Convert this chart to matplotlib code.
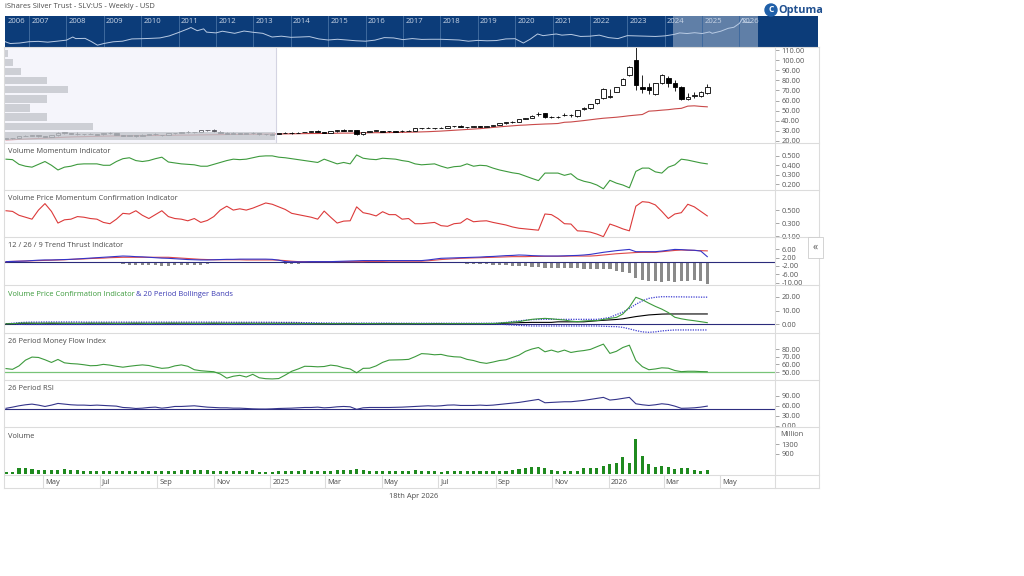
import numpy as np
import pandas as pd
import matplotlib
matplotlib.use('Agg')
import matplotlib.pyplot as plt
import matplotlib.dates as mdates
import matplotlib.transforms as mtransforms
from matplotlib.lines import Line2D
from matplotlib.patches import Ellipse

plt.rcParams['font.family'] = ['Open Sans', 'DejaVu Sans']

# ---------------- data ----------------
weeks = pd.date_range('2024-03-22', periods=109, freq='7D')

opens = [22.0, 22.5, 22.7, 24.8, 25.4, 25.6, 24.4, 24.3, 25.6, 28.5,
         27.5, 27.3, 26.6, 26.6, 26.7, 26.5, 28.2, 27.8, 26.2, 25.3,
         25.6, 24.9, 26.4, 27.1, 26.3, 25.9, 27.5, 28.0, 28.5, 28.9,
         28.6, 30.7, 30.4, 29.3, 28.2, 27.0, 27.9, 27.1, 27.6, 27.7,
         26.6, 26.4, 27.0, 27.8, 27.8, 27.8, 28.6, 29.2, 29.8, 29.3,
         28.2, 29.4, 30.7, 30.1, 31.0, 26.9, 29.1, 30.2, 30.1, 29.4,
         29.8, 29.5, 30.1, 30.2, 32.6, 33.0, 33.0, 32.5, 33.1, 34.5,
         34.8, 34.1, 33.6, 34.4, 34.2, 35.0, 36.0, 37.3, 38.5, 39.0,
         41.8, 43.0, 46.6, 47.4, 43.8, 43.7, 45.8, 45.7, 44.5, 52.0,
         52.4, 57.4, 62.3, 63.5, 68.8, 75.4, 85.3, 100.2, 73.8, 73.2,
         66.5, 77.8, 82.1, 77.1, 73.2, 61.3, 65.0, 64.5, 67.2]
highs = [22.9, 22.9, 25.0, 26.3, 26.3, 25.9, 24.8, 25.9, 28.5, 29.3,
         28.3, 28.6, 27.3, 27.8, 27.3, 28.3, 28.5, 28.3, 26.4, 26.3,
         25.9, 26.6, 27.4, 27.5, 26.4, 27.7, 28.3, 29.3, 29.5, 29.0,
         30.8, 31.3, 31.8, 29.6, 28.4, 28.7, 28.2, 28.0, 29.3, 27.9,
         27.1, 27.5, 28.0, 28.7, 28.4, 29.2, 29.3, 30.0, 30.4, 29.3,
         29.6, 31.0, 31.5, 31.2, 31.3, 29.3, 30.0, 30.5, 30.3, 30.0,
         30.1, 30.4, 30.4, 33.1, 33.0, 33.9, 33.3, 33.5, 35.0, 35.3,
         35.6, 34.3, 34.6, 34.6, 35.1, 36.0, 37.6, 38.5, 39.3, 42.0,
         43.0, 46.0, 49.0, 48.0, 44.6, 44.5, 47.2, 46.8, 51.0, 53.5,
         57.0, 61.5, 72.0, 71.2, 73.8, 82.0, 94.5, 115.0, 85.0, 77.0,
         77.5, 86.0, 84.0, 80.0, 74.0, 67.5, 68.5, 69.0, 76.0]
lows = [21.8, 22.1, 22.6, 24.5, 24.9, 24.3, 23.9, 24.2, 25.4, 27.0,
        27.0, 26.4, 25.9, 26.5, 26.2, 26.4, 27.4, 26.0, 24.9, 25.1,
        24.2, 24.8, 26.2, 26.3, 24.9, 25.5, 27.0, 27.9, 27.8, 27.8,
        28.5, 29.8, 29.2, 27.7, 26.6, 26.8, 26.6, 26.9, 27.3, 26.0,
        26.3, 26.3, 26.8, 27.5, 27.2, 27.8, 28.4, 28.9, 29.1, 27.8,
        28.1, 29.2, 29.8, 29.9, 26.3, 25.8, 28.9, 29.6, 28.9, 29.0,
        28.8, 29.2, 29.6, 30.0, 31.9, 32.6, 31.8, 32.4, 33.0, 34.0,
        34.0, 32.8, 33.5, 33.6, 33.7, 34.9, 35.8, 37.0, 37.5, 38.8,
        41.5, 42.6, 44.5, 43.0, 42.5, 42.8, 44.8, 44.2, 44.0, 50.8,
        52.0, 57.0, 62.0, 62.8, 68.0, 75.0, 84.5, 70.5, 67.5, 66.5,
        65.5, 76.5, 73.8, 69.0, 61.0, 60.5, 63.0, 64.0, 66.5]
closes = [22.5, 22.7, 24.7, 25.3, 25.8, 24.5, 24.3, 25.5, 28.2, 27.6,
          27.3, 26.6, 26.6, 26.8, 26.4, 28.2, 27.7, 26.2, 25.3, 25.8,
          24.9, 26.4, 27.1, 26.5, 25.8, 27.5, 28.0, 28.7, 29.0, 28.5,
          30.6, 30.6, 29.4, 28.0, 27.0, 27.9, 27.0, 27.6, 27.6, 26.5,
          26.6, 27.0, 27.7, 27.7, 27.8, 28.3, 29.1, 29.8, 29.3, 28.1,
          29.4, 30.7, 30.0, 31.1, 26.9, 29.0, 29.7, 30.2, 29.3, 29.6,
          29.3, 30.1, 29.9, 32.6, 32.9, 32.9, 32.4, 33.2, 34.5, 34.6,
          34.2, 33.5, 34.4, 34.2, 34.9, 35.8, 37.3, 38.4, 39.0, 41.6,
          42.5, 45.0, 47.0, 43.6, 43.6, 43.9, 46.2, 46.0, 50.7, 52.4,
          56.6, 61.3, 71.2, 64.2, 73.2, 81.4, 93.5, 75.4, 71.2, 70.5,
          77.1, 85.3, 77.1, 73.2, 61.3, 64.0, 65.5, 68.8, 73.8]
red_line = [21.0, 21.3, 21.6, 21.9, 22.2, 22.5, 22.8, 23.1, 23.4, 23.7,
            24.0, 24.2, 24.3, 24.5, 24.6, 24.8, 24.9, 25.0, 25.0, 25.1,
            25.2, 25.3, 25.4, 25.4, 25.5, 25.6, 25.7, 25.8, 25.8, 25.9,
            26.0, 26.1, 26.2, 26.3, 26.4, 26.5, 26.5, 26.6, 26.7, 26.7,
            26.8, 26.9, 27.0, 27.0, 27.1, 27.2, 27.3, 27.4, 27.4, 27.5,
            27.6, 27.7, 27.8, 27.8, 27.9, 28.0, 28.1, 28.2, 28.2, 28.3,
            28.4, 28.5, 28.7, 28.8, 29.0, 29.2, 29.5, 29.8, 30.2, 30.6,
            31.0, 31.4, 31.8, 32.2, 32.8, 33.4, 34.0, 34.5, 35.0, 35.5,
            35.8, 36.2, 36.5, 36.8, 37.0, 37.3, 38.5, 38.8, 39.5, 40.2,
            41.0, 41.8, 42.5, 43.0, 43.5, 44.2, 45.0, 45.6, 46.2, 49.5,
            49.9, 50.5, 51.0, 51.8, 52.3, 54.5, 54.8, 54.2, 53.8]

# volume at price profile (left of price panel)
prof_price = [106.6, 97.7, 88.8, 79.9, 71.0, 61.6, 52.7, 43.8, 34.4, 25.0]
prof_volume = [3, 8, 16, 42, 63, 42, 25, 42, 88, 270]

vmi = [0.465, 0.46, 0.41, 0.39, 0.38, 0.41, 0.44, 0.40, 0.35, 0.38,
       0.39, 0.41, 0.415, 0.415, 0.415, 0.40, 0.40, 0.44, 0.47, 0.48,
       0.45, 0.44, 0.45, 0.47, 0.486, 0.435, 0.425, 0.415, 0.41, 0.405,
       0.39, 0.39, 0.41, 0.43, 0.45, 0.465, 0.46, 0.465, 0.48, 0.495,
       0.50, 0.50, 0.486, 0.48, 0.47, 0.46, 0.45, 0.44, 0.43, 0.465,
       0.44, 0.415, 0.43, 0.415, 0.51, 0.475, 0.465, 0.46, 0.475, 0.47,
       0.465, 0.45, 0.44, 0.415, 0.405, 0.41, 0.415, 0.39, 0.37, 0.385,
       0.39, 0.415, 0.39, 0.40, 0.395, 0.37, 0.35, 0.335, 0.32, 0.31,
       0.285, 0.26, 0.237, 0.317, 0.317, 0.317, 0.293, 0.31, 0.255, 0.23,
       0.215, 0.19, 0.15, 0.24, 0.21, 0.19, 0.16, 0.335, 0.37, 0.37,
       0.33, 0.317, 0.38, 0.405, 0.465, 0.455, 0.44, 0.425, 0.415]
vpmci = [0.49, 0.48, 0.42, 0.39, 0.36, 0.50, 0.60, 0.48, 0.30, 0.35,
         0.36, 0.40, 0.39, 0.37, 0.36, 0.31, 0.29, 0.36, 0.45, 0.44,
         0.49, 0.42, 0.37, 0.43, 0.49, 0.40, 0.37, 0.36, 0.335, 0.37,
         0.31, 0.34, 0.40, 0.50, 0.56, 0.50, 0.52, 0.50, 0.53, 0.57,
         0.61, 0.59, 0.55, 0.51, 0.45, 0.43, 0.41, 0.39, 0.36, 0.485,
         0.39, 0.30, 0.33, 0.335, 0.55, 0.46, 0.44, 0.41, 0.475, 0.43,
         0.43, 0.36, 0.37, 0.29, 0.29, 0.30, 0.31, 0.26, 0.25, 0.29,
         0.30, 0.37, 0.32, 0.33, 0.335, 0.31, 0.29, 0.27, 0.24, 0.22,
         0.21, 0.20, 0.19, 0.44, 0.43, 0.37, 0.29, 0.285, 0.18, 0.175,
         0.16, 0.13, 0.09, 0.285, 0.25, 0.21, 0.18, 0.56, 0.63, 0.62,
         0.58, 0.48, 0.37, 0.44, 0.46, 0.59, 0.55, 0.48, 0.41]
tt_blue = [0.1, 0.2, 0.3, 0.4, 0.6, 0.8, 0.9, 0.9, 1.0, 1.1,
           1.2, 1.4, 1.6, 1.8, 2.0, 2.2, 2.4, 2.6, 2.8, 2.7,
           2.5, 2.4, 2.2, 2.0, 1.8, 1.7, 1.5, 1.3, 1.1, 1.0,
           0.9, 0.9, 1.0, 1.1, 1.2, 1.2, 1.3, 1.3, 1.3, 1.3,
           1.3, 1.2, 0.8, 0.1, 0.0, 0.0, 0.0, 0.1, 0.1, 0.1,
           0.1, 0.2, 0.3, 0.4, 0.5, 0.6, 0.6, 0.6, 0.6, 0.6,
           0.6, 0.6, 0.6, 0.6, 0.6, 0.9, 1.3, 1.7, 1.8, 1.9,
           2.0, 2.1, 2.2, 2.3, 2.5, 2.6, 2.8, 3.0, 3.1, 3.3,
           3.2, 3.0, 2.9, 2.8, 2.8, 2.8, 2.9, 3.0, 3.1, 3.3,
           3.6, 4.1, 4.6, 5.0, 5.4, 5.7, 6.0, 4.9, 4.9, 4.9,
           4.9, 5.2, 5.6, 6.0, 5.9, 5.7, 5.6, 5.2, 2.5]
tt_red = [0.1, 0.2, 0.3, 0.4, 0.5, 0.6, 0.7, 0.8, 0.9, 1.0,
          1.2, 1.3, 1.4, 1.6, 1.7, 1.8, 2.0, 2.1, 2.2, 2.2,
          2.2, 2.2, 2.2, 2.2, 2.2, 2.2, 2.0, 1.8, 1.6, 1.4,
          1.2, 1.1, 1.0, 1.0, 1.0, 1.0, 1.0, 0.9, 0.9, 0.9,
          0.9, 0.9, 0.8, 0.6, 0.3, 0.1, 0.1, 0.1, 0.1, 0.1,
          0.1, 0.1, 0.1, 0.1, 0.1, 0.1, 0.2, 0.2, 0.2, 0.3,
          0.3, 0.3, 0.3, 0.3, 0.3, 0.5, 0.8, 1.1, 1.3, 1.5,
          1.7, 1.8, 1.9, 2.0, 2.1, 2.2, 2.3, 2.4, 2.5, 2.5,
          2.5, 2.6, 2.6, 2.7, 2.7, 2.7, 2.7, 2.8, 2.8, 2.8,
          2.8, 3.0, 3.3, 3.6, 3.9, 4.1, 4.3, 4.5, 4.6, 4.6,
          4.6, 4.9, 5.2, 5.5, 5.7, 5.6, 5.5, 5.4, 5.3]
tt_hist = [-0.3, -0.3, -0.3, -0.3, -0.3, -0.3, -0.3, -0.3, -0.3, -0.3,
           -0.4, -0.4, -0.4, -0.4, -0.4, -0.4, -0.4, -0.4, -1.2, -1.3,
           -1.4, -1.5, -1.6, -1.7, -1.8, -1.8, -1.7, -1.6, -1.5, -1.4,
           -1.3, -1.2, -0.5, -0.5, -0.5, -0.5, -0.5, -0.5, -0.5, -0.5,
           -0.5, -0.5, -0.5, -1.0, -1.0, -1.0, -0.2, -0.2, -0.2, -0.2,
           -0.2, -0.2, -0.2, -0.2, -0.2, -0.2, -0.2, -0.2, -0.2, -0.2,
           -0.2, -0.2, -0.2, -0.2, -0.2, -0.3, -0.4, -0.5, -0.6, -0.7,
           -0.8, -0.9, -1.0, -1.1, -1.2, -1.4, -1.5, -1.6, -1.8, -1.9,
           -2.1, -2.4, -2.7, -2.9, -2.9, -2.9, -3.2, -3.2, -3.2, -3.4,
           -3.4, -3.7, -3.7, -3.7, -4.3, -4.8, -5.6, -8.0, -8.8, -9.2,
           -9.5, -9.6, -9.5, -9.6, -9.5, -9.5, -8.8, -9.2, -10.8]
vpci = [0.3, 0.5, 0.8, 0.9, 0.8, 0.7, 0.8, 0.9, 0.8, 0.7,
        0.7, 0.6, 0.7, 0.8, 0.7, 0.8, 0.7, 0.6, 0.6, 0.7,
        0.8, 0.7, 0.6, 0.7, 0.7, 0.8, 0.8, 0.7, 0.7, 0.6,
        0.6, 0.7, 0.8, 0.7, 0.6, 0.6, 0.7, 0.7, 0.6, 0.5,
        0.5, 0.6, 0.6, 0.5, 0.5, 0.5, 0.5, 0.5, 0.4, 0.4,
        0.5, 0.5, 0.4, 0.4, 0.5, 0.6, 0.5, 0.5, 0.4, 0.4,
        0.4, 0.4, 0.4, 0.5, 0.5, 0.5, 0.4, 0.4, 0.5, 0.5,
        0.5, 0.5, 0.5, 0.5, 0.6, 0.6, 0.8, 1.2, 1.6, 1.9,
        2.8, 3.6, 4.0, 4.3, 4.0, 3.5, 3.1, 2.3, 1.9, 2.4,
        2.6, 2.7, 3.5, 4.3, 5.0, 7.5, 12.5, 19.6, 17.8, 15.3,
        13.0, 11.0, 8.5, 5.1, 4.0, 3.2, 2.6, 1.9, 1.2]
bb_upper = [0.3, 0.8, 1.2, 1.5, 1.6, 1.6, 1.7, 1.7, 1.7, 1.7,
            1.7, 1.7, 1.6, 1.6, 1.6, 1.6, 1.6, 1.6, 1.6, 1.6,
            1.6, 1.6, 1.6, 1.6, 1.6, 1.6, 1.6, 1.6, 1.6, 1.6,
            1.6, 1.6, 1.6, 1.6, 1.5, 1.5, 1.5, 1.5, 1.5, 1.5,
            1.5, 1.5, 1.4, 1.4, 1.4, 1.3, 1.2, 1.2, 1.1, 1.0,
            1.0, 0.9, 0.9, 0.9, 0.9, 0.9, 0.9, 0.9, 0.9, 0.9,
            0.8, 0.8, 0.8, 0.8, 0.8, 0.8, 0.8, 0.8, 0.8, 0.8,
            0.8, 0.8, 0.8, 0.8, 0.8, 0.8, 1.0, 1.4, 2.0, 2.5,
            3.0, 3.4, 3.5, 3.6, 3.6, 3.6, 3.6, 3.6, 3.6, 3.6,
            3.6, 3.6, 4.2, 5.0, 7.0, 8.8, 11.5, 14.5, 17.0, 18.8,
            19.6, 20.0, 20.0, 19.9, 19.9, 19.8, 19.8, 19.7, 19.7]
bb_lower = [0.2, 0.1, 0.0, -0.1, -0.1, -0.1, -0.1, -0.1, -0.1, -0.1,
            -0.1, -0.1, -0.1, -0.1, -0.1, -0.1, -0.1, -0.1, -0.1, -0.1,
            -0.1, -0.1, -0.1, -0.1, -0.1, -0.1, -0.1, -0.1, -0.1, -0.1,
            -0.1, -0.1, -0.1, -0.1, -0.1, -0.1, -0.1, -0.1, -0.1, -0.1,
            -0.1, -0.1, -0.1, -0.1, -0.1, -0.1, 0.0, 0.1, 0.1, 0.2,
            0.2, 0.2, 0.2, 0.2, 0.2, 0.2, 0.2, 0.2, 0.2, 0.2,
            0.2, 0.2, 0.2, 0.2, 0.2, 0.2, 0.2, 0.2, 0.2, 0.2,
            0.2, 0.2, 0.2, 0.2, 0.2, 0.2, 0.1, -0.2, -0.5, -0.8,
            -1.0, -1.2, -1.2, -1.2, -1.2, -1.2, -1.2, -1.2, -1.2, -1.2,
            -1.2, -1.2, -1.4, -1.6, -1.7, -2.2, -3.3, -4.5, -5.5, -5.8,
            -5.5, -4.8, -4.4, -4.1, -4.1, -4.1, -4.1, -4.1, -4.1]
bb_mid = [0.2, 0.4, 0.6, 0.7, 0.7, 0.7, 0.7, 0.7, 0.7, 0.7,
          0.7, 0.7, 0.7, 0.7, 0.7, 0.7, 0.7, 0.7, 0.7, 0.7,
          0.7, 0.7, 0.7, 0.7, 0.7, 0.7, 0.7, 0.7, 0.7, 0.7,
          0.7, 0.7, 0.7, 0.7, 0.7, 0.7, 0.7, 0.7, 0.7, 0.7,
          0.7, 0.7, 0.7, 0.7, 0.7, 0.7, 0.6, 0.6, 0.5, 0.5,
          0.5, 0.5, 0.5, 0.5, 0.5, 0.5, 0.5, 0.5, 0.5, 0.5,
          0.5, 0.5, 0.5, 0.5, 0.5, 0.5, 0.5, 0.5, 0.5, 0.5,
          0.5, 0.5, 0.5, 0.5, 0.5, 0.5, 0.6, 0.8, 1.0, 1.2,
          1.3, 1.4, 1.4, 1.4, 1.4, 1.8, 1.8, 1.8, 1.8, 1.8,
          2.2, 2.6, 2.9, 3.2, 3.5, 4.0, 4.8, 5.6, 6.2, 6.8,
          7.1, 7.4, 7.5, 7.5, 7.5, 7.5, 7.5, 7.5, 7.5]
mfi = [54.5, 53.5, 58, 65.5, 69.5, 69, 66, 62.5, 66.4, 62,
       61, 60.5, 59.5, 58.2, 58.5, 60, 59, 57.5, 56.3, 57.5,
       58.5, 59.3, 58.5, 56.5, 54.8, 55.5, 58, 59.3, 57.5, 53,
       51.7, 51, 50.4, 47.4, 42, 44.5, 45.7, 43.5, 47, 42.5,
       41.3, 41, 41.5, 46, 51, 54, 57.5, 57.3, 56.8, 57.2,
       59, 58, 55.5, 54, 49, 54.8, 55, 58, 62.6, 65.6,
       65.8, 66, 66.5, 70, 74, 73.5, 72.5, 73, 71, 69.9,
       69.5, 66.5, 65, 62.5, 61.3, 63, 65, 66, 69, 72,
       77, 80, 82, 76.4, 78.6, 76, 78.6, 75.5, 77, 78,
       79.5, 83, 86.4, 74.3, 77, 82, 85, 65, 57, 53,
       54, 55.5, 55, 52, 50.5, 51, 51, 50.6, 50.4]
rsi = [52.5, 56, 60, 63, 65, 62, 58, 62, 67, 65,
       63, 62, 62, 61, 62, 61, 60, 59, 55, 54,
       52, 53, 55, 56, 53, 55, 58, 58, 59, 60,
       58, 56, 55, 54, 54, 53, 53, 52, 51, 50.5,
       50.4, 51, 52, 52.5, 53, 54, 55, 55, 56, 54,
       55, 57, 58, 57, 49.5, 54, 55, 55, 55, 55,
       55.5, 56, 57, 58, 59, 60, 59, 60, 62, 62.5,
       61, 61, 61, 62, 61, 62, 64, 66, 68, 70,
       73, 76, 79, 69, 70, 71, 72, 72, 74, 76,
       79, 82, 85, 77, 79, 82, 85, 66, 63, 61,
       63, 66, 64, 59, 52.5, 53, 54, 56, 59]
volume = [108, 108, 248, 276, 220, 178, 178, 178, 178, 206,
          164, 178, 136, 136, 136, 136, 136, 136, 136, 136,
          136, 136, 136, 136, 136, 136, 150, 164, 164, 164,
          164, 178, 150, 136, 136, 136, 136, 136, 178, 108,
          108, 108, 120, 136, 136, 136, 178, 150, 150, 150,
          150, 160, 164, 170, 206, 178, 150, 150, 136, 136,
          130, 130, 130, 164, 136, 136, 136, 100, 136, 136,
          136, 136, 136, 136, 136, 136, 150, 150, 164, 206,
          276, 318, 318, 248, 178, 150, 150, 150, 150, 248,
          248, 276, 346, 459, 487, 740, 487, 1554, 782, 459,
          318, 360, 318, 220, 276, 248, 178, 150, 178]

# long history shown in the navigator strip
nav_years = [2006.33, 2006.42, 2006.5, 2006.75, 2007.0, 2007.25, 2007.5, 2007.75, 2008.0, 2008.17,
             2008.25, 2008.5, 2008.67, 2008.83, 2009.0, 2009.25, 2009.5, 2009.75, 2010.0, 2010.25,
             2010.5, 2010.75, 2011.0, 2011.25, 2011.33, 2011.5, 2011.67, 2011.75, 2012.0, 2012.17,
             2012.5, 2012.75, 2013.0, 2013.25, 2013.5, 2013.75, 2014.0, 2014.25, 2014.5, 2014.75,
             2015.0, 2015.25, 2015.5, 2015.75, 2016.0, 2016.25, 2016.5, 2016.75, 2017.0, 2017.25,
             2017.5, 2017.75, 2018.0, 2018.25, 2018.5, 2018.75, 2019.0, 2019.25, 2019.5, 2019.75,
             2020.0, 2020.22, 2020.4, 2020.6, 2020.75, 2021.0, 2021.1, 2021.25, 2021.5, 2021.75,
             2022.0, 2022.25, 2022.5, 2022.75, 2023.0, 2023.25, 2023.5, 2023.75, 2024.0, 2024.25,
             2024.4, 2024.6, 2024.8, 2025.0, 2025.2, 2025.27, 2025.5, 2025.7, 2025.85, 2026.0,
             2026.08, 2026.15, 2026.3]
nav_price = [13.5, 12.0, 11.0, 11.5, 12.9, 13.3, 12.4, 13.5, 14.8, 19.5,
             17.0, 17.3, 13.0, 9.5, 11.0, 12.8, 13.5, 16.5, 16.8, 17.3,
             18.0, 21.5, 29.0, 40.0, 45.0, 34.0, 40.0, 30.0, 28.0, 32.5,
             27.0, 33.0, 29.5, 27.0, 19.5, 21.0, 19.0, 19.5, 20.2, 16.5,
             15.0, 16.0, 15.0, 14.0, 13.5, 14.8, 18.5, 18.0, 15.5, 17.0,
             15.8, 16.0, 16.0, 15.5, 15.0, 13.5, 14.5, 14.0, 14.3, 16.5,
             16.8, 11.5, 16.0, 25.5, 22.0, 24.5, 25.5, 23.0, 24.5, 20.5,
             21.0, 23.0, 18.5, 17.0, 22.0, 21.5, 21.0, 20.5, 21.5, 24.5,
             28.0, 26.5, 28.5, 26.5, 30.5, 27.0, 32.5, 42.0, 46.0, 65.0,
             100.0, 72.0, 70.0]

# ---------------- figure ----------------
W, H = 1024, 576
X0, X1 = 5, 775
fig = plt.figure(figsize=(W / 100, H / 100), dpi=100)

t = mdates.date2num(weeks)
xmin = mdates.date2num(pd.Timestamp('2024-03-20 22:00'))
xmax = mdates.date2num(pd.Timestamp('2026-06-29'))

GRID = '#dcdcdc'
TXT = '#4a4a4a'


def panel(y0, y1, x0=X0, x1=X1):
    return fig.add_axes([x0 / W, 1 - y1 / H, (x1 - x0) / W, (y1 - y0) / H])


def ftext(x, y, s, **kw):
    kw.setdefault('fontsize', 5.4)
    kw.setdefault('color', TXT)
    kw.setdefault('va', 'center')
    fig.text(x / W, 1 - y / H, s, **kw)


def style(ax, ylim, ticks, fmt):
    ax.set_xlim(xmin, xmax)
    ax.set_ylim(*ylim)
    for s in ax.spines.values():
        s.set_visible(False)
    ax.set_xticks([])
    ax.yaxis.tick_right()
    ax.set_yticks(ticks)
    ax.set_yticklabels([fmt % v for v in ticks])
    ax.tick_params(axis='y', direction='out', length=3, width=0.6, color='#999999',
                   pad=1.5, labelsize=5.3, labelcolor='#555555')


# price panel
ax_p = panel(47, 143)
o, hi, lo, c = map(np.array, (opens, highs, lows, closes))
up = c >= o
ax_p.plot(t, red_line, color='#c94a4a', lw=0.8, zorder=2)
ax_p.vlines(t, lo, hi, color='black', lw=0.6, zorder=3)
ax_p.bar(t, np.maximum(np.abs(c - o), 0.35), bottom=np.minimum(o, c), width=4.8,
         color=np.where(up, 'white', 'black'), edgecolor='black', linewidth=0.6, zorder=4)
shade_end = mdates.date2num(pd.Timestamp('2025-01-07'))
ax_p.axvspan(xmin, shade_end, color='#e6e6f6', alpha=0.4, lw=0, zorder=5)
ax_p.axvline(shade_end, color='#d4d4e2', lw=0.8, zorder=5)
style(ax_p, (18, 113), [20, 30, 40, 50, 60, 70, 80, 90, 100, 110], '%.2f')

ax_vp = panel(47, 143)
ax_vp.barh(prof_price, prof_volume, height=7.4, color='#bcc0c6', alpha=0.7, lw=0)
ax_vp.set_xlim(0, 770)
ax_vp.set_ylim(18, 113)
ax_vp.axis('off')

# volume momentum
ax1 = panel(143, 190)
ax1.plot(t, vmi, color='#3d9a3d', lw=0.8)
style(ax1, (0.137, 0.637), [0.2, 0.3, 0.4, 0.5], '%.3f')

# volume price momentum confirmation
ax2 = panel(190, 237)
ax2.plot(t, vpmci, color='#dc3a3a', lw=0.8)
style(ax2, (0.085, 0.81), [0.1, 0.3, 0.5], '%.3f')

# trend thrust
ax3 = panel(237, 285)
ax3.bar(t, tt_hist, width=3.5, color='#8a8a8a', lw=0, zorder=2)
ax3.axhline(0, color='#2b2b7b', lw=0.8, zorder=3)
ax3.plot(t, tt_red, color='#e04848', lw=0.8, zorder=4)
ax3.plot(t, tt_blue, color='#3434c8', lw=0.8, zorder=5)
style(ax3, (-11.2, 12.0), [6, 2, -2, -6, -10], '%.2f')

# VPCI + bollinger bands
ax4 = panel(285, 333)
ax4.axhline(0, color='#2b2b7b', lw=0.8)
ax4.plot(t, bb_upper, color='#3a3ad0', lw=0.9, ls=(0, (1, 1)))
ax4.plot(t, bb_lower, color='#3a3ad0', lw=0.9, ls=(0, (1, 1)))
ax4.plot(t, bb_mid, color='black', lw=0.8)
ax4.plot(t, vpci, color='#3d9a3d', lw=0.8)
style(ax4, (-6.3, 28.5), [0, 10, 20], '%.2f')

# money flow index
ax5 = panel(333, 380)
ax5.axhline(50, color='#78c478', lw=0.9)
ax5.plot(t, mfi, color='#3d9a3d', lw=0.8)
style(ax5, (39.6, 100.9), [50, 60, 70, 80], '%.2f')

# RSI
ax6 = panel(380, 427)
ax6.axhline(50, color='#2e2e80', lw=0.8)
ax6.plot(t, rsi, color='#34348a', lw=0.8)
style(ax6, (-3, 136.6), [0, 30, 60, 90], '%.2f')

# volume
ax7 = panel(427, 475)
ax7.bar(t, volume, width=3.3, color='#1f8a1f', lw=0)
style(ax7, (-38, 2058), [900, 1300], '%d')

# date row
ax_d = panel(475, 488)
ax_d.set_xlim(xmin, xmax)
ax_d.set_ylim(0, 1)
ax_d.axis('off')
for d in pd.date_range('2024-05-01', '2026-05-01', freq='2MS'):
    xd = mdates.date2num(d)
    ax_d.axvline(xd, color=GRID, lw=0.8)
    lab = str(d.year) if d.month == 1 else d.strftime('%b')
    ax_d.text(xd + 2.2, 0.45, lab, fontsize=5.4, color=TXT, va='center', ha='left')

# navigator strip
ax_n = panel(16, 47, 5, 818)
ax_n.set_facecolor('#0c3c79')
ax_n.set_yscale('log')
ax_n.set_xlim(2006.358, 2028.1)
ax_n.set_ylim(8.1, 124)
blend = mtransforms.blended_transform_factory(ax_n.transData, ax_n.transAxes)
for yr in range(2006, 2027):
    if yr > 2006:
        ax_n.axvline(yr, color='#3f6a9e', lw=0.7)
    ax_n.text(max(yr, 2006.36) + 0.06, 0.93, str(yr), transform=blend, fontsize=5.6,
              color='#c9d5e6', va='top', ha='left')
ax_n.axvspan(2024.22, 2026.49, color='white', alpha=0.35, lw=0)
ax_n.plot(nav_years, nav_price, color='#b9cbe4', lw=0.7)
ax_n.set_xticks([])
ax_n.set_yticks([])
ax_n.minorticks_off()
for s in ax_n.spines.values():
    s.set_visible(False)

# frame lines
for yy in [47, 143, 190, 237, 285, 333, 380, 427, 475, 488]:
    fig.add_artist(Line2D([4 / W, 819 / W], [1 - yy / H] * 2, color=GRID, lw=0.8))
for xx in [4, 775, 819]:
    fig.add_artist(Line2D([xx / W] * 2, [1 - 47 / H, 1 - 488 / H], color=GRID, lw=0.8))

# texts
ftext(5, 6.5, 'iShares Silver Trust - SLV:US - Weekly - USD')
ftext(8, 151.5, 'Volume Momentum Indicator')
ftext(8, 198.5, 'Volume Price Momentum Confirmation Indicator')
ftext(8, 246, '12 / 26 / 9 Trend Thrust Indicator')
ftext(8, 294.5, 'Volume Price Confirmation Indicator', color='#3b9a3b')
ftext(135.5, 294.5, '& 20 Period Bollinger Bands', color='#3c3cb4')
ftext(8, 341.5, '26 Period Money Flow Index')
ftext(8, 389, '26 Period RSI')
ftext(8, 436, 'Volume')
ftext(780, 435, 'Million', color='#555555')
ftext(414, 497, '18th Apr 2026', ha='center')

# logo and side tab
fig.add_artist(Ellipse((771 / W, 1 - 10 / H), 12 / W, 12 / H, color='#1f5fa8'))
ftext(771, 10, 'C', ha='center', color='white', fontsize=6, fontweight='bold')
ftext(778.5, 10, 'Optuma', color='#1f4f8f', fontsize=7.8, fontweight='bold')
ftext(815.5, 247.5, '\u00ab', ha='center', color='#555555', fontsize=7.5,
      bbox=dict(boxstyle='square,pad=0.45', fc='white', ec='#cccccc', lw=0.6))

fig.savefig('out.png', dpi=100)
plt.close(fig)
